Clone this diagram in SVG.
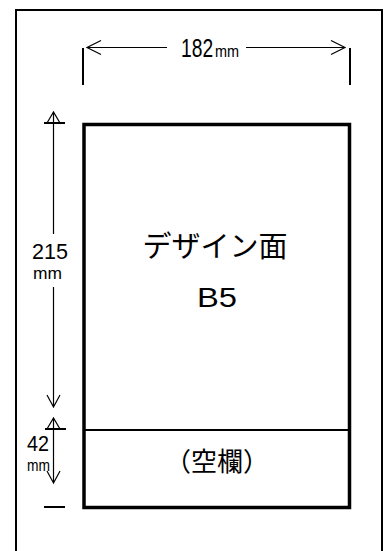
<svg xmlns="http://www.w3.org/2000/svg" width="384" height="551" viewBox="0 0 384 551">
<style>
.frame{fill:none;stroke:#000;stroke-width:2}
.page{fill:#fff;stroke:#000;stroke-width:3.5}
.div{stroke:#000;stroke-width:2}
.tick{stroke:#000;stroke-width:2}
.dim{stroke:#000;stroke-width:1.2;fill:none}
.num{font-family:"Liberation Sans",Arial,sans-serif;fill:#000}
.jp{font-family:"Noto Sans CJK JP","Noto Sans",sans-serif;fill:#000}
</style>
<rect width="384" height="551" fill="#fff"/>
<g id="frame"><path class="frame" d="M16,560 V10 H382 V560"/></g>
<g id="page">
<rect class="page" x="84" y="124.5" width="265.5" height="383"/>
<line class="div" x1="84" y1="430" x2="349.5" y2="430"/>
<text class="jp" x="215" y="257" font-size="29" text-anchor="middle">デザイン面</text>
<text class="num" x="197" y="307" font-size="28" textLength="40" lengthAdjust="spacingAndGlyphs">B5</text>
</g>
<g id="blank">
<text class="jp" x="217" y="471" font-size="26" text-anchor="middle">（空欄）</text>
</g>
<g id="connectors">
<line class="tick" x1="83" y1="48" x2="83" y2="85"/>
<line class="tick" x1="350" y1="48" x2="350" y2="85"/>
<path class="dim" d="M87,47.5 H167 M246,47.5 H345 M101,40.5 L87,47.5 L101,54.5 M331,40.5 L345,47.5 L331,54.5"/>
<line class="tick" x1="44" y1="123" x2="65" y2="123"/>
<line class="tick" x1="45" y1="429" x2="66" y2="429"/>
<line class="tick" x1="44" y1="507" x2="65" y2="507"/>
<path class="dim" d="M53.5,112 V234 M53.5,287 V407 M47,123 L53.5,112 L60,123 M47,395 L53.5,407 L60,395"/>
<path class="dim" d="M53.5,418 V483 M47,429 L53.5,418 L60,429 M47,471 L53.5,483 L60,471"/>
</g>
<g id="labels">
<text class="num" transform="translate(181,57) scale(0.74,1)" font-size="26">182</text>
<text class="num" transform="translate(215,57) scale(0.85,1)" font-size="17">mm</text>
<text class="num" x="32" y="259" font-size="22" textLength="36" lengthAdjust="spacingAndGlyphs">215</text>
<text class="num" x="33" y="279" font-size="16.5" textLength="29" lengthAdjust="spacingAndGlyphs">mm</text>
<text class="num" x="27" y="451" font-size="22" textLength="22" lengthAdjust="spacingAndGlyphs">42</text>
<text class="num" x="27" y="471" font-size="16.5" textLength="23" lengthAdjust="spacingAndGlyphs">mm</text>
</g>
</svg>
